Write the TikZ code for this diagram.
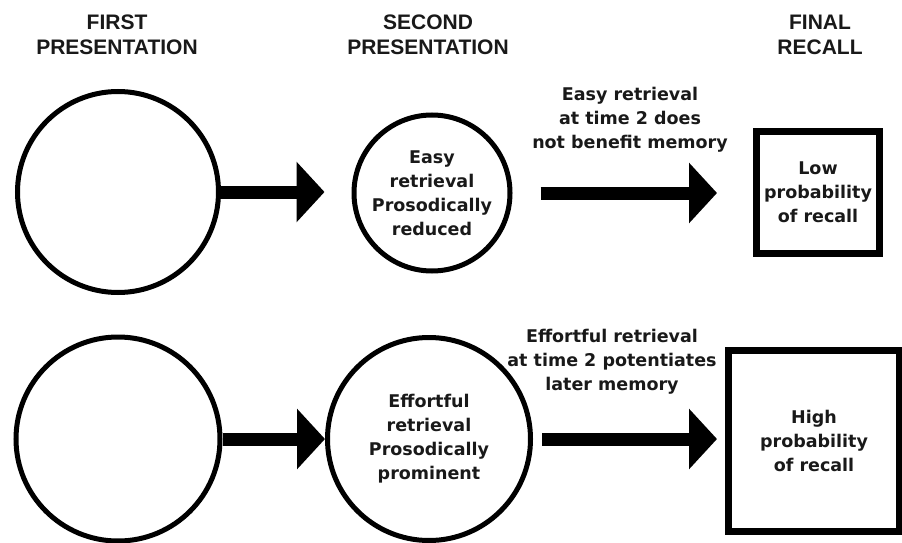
\documentclass[tikz,border=0pt]{standalone}
\usepackage{fontspec}
\setmainfont{DejaVu Sans}
\newfontfamily\hdrfont{Liberation Sans}
\usetikzlibrary{arrows.meta}
\begin{document}
\begin{tikzpicture}[x=1pt,y=-1pt,
  hdr/.style={font=\hdrfont\bfseries\fontsize{21}{25}\selectfont, align=center, inner sep=0pt, text=black!90},
  body/.style={font=\bfseries\fontsize{17.5}{24}\selectfont, align=center, inner sep=0pt, text=black!90},
  ring/.style={circle, draw, line width=5pt, inner sep=0pt},
  outbox/.style={rectangle, draw, line width=7pt, inner sep=0pt},
  bigarrow/.style={line width=13pt, -{Triangle[length=28pt,width=59pt]}},
]
\useasboundingbox[fill=white] (0,0) rectangle (902,543);

% headers
\node[hdr] (h1) at (117,34.5) {FIRST\\PRESENTATION};
\node[hdr] (h2) at (428,34.5) {SECOND\\PRESENTATION};
\node[hdr] (h3) at (820,34.5) {FINAL\\RECALL};

% top row
\node[ring, minimum size=201pt] (c1) at (118,192) {};
\node[ring, body, minimum size=156pt] (c2) at (432,193) {Easy\\retrieval\\Prosodically\\reduced};
\node[outbox, body, minimum width=123pt, minimum height=122pt] (b1) at (818,192.5) {Low\\probability\\of recall};
\node[body] (l1) at (630,120) {Easy retrieval\\at time 2 does\\not benefit memory};

\coordinate (a1e) at ([xshift=-27pt]c2.west);
\coordinate (a2s) at ([xshift=28pt]c2.east);
\coordinate (a2e) at ([xshift=-36pt]b1.west);
\draw[bigarrow] (c1.east) -- (c1.east -| a1e);
\draw[bigarrow] (a2s) -- (a2s -| a2e);

% bottom row
\node[ring, minimum size=204pt] (c3) at (118,439) {};
\node[ring, body, minimum size=203pt] (c4) at (429,439) {Effortful\\retrieval\\Prosodically\\prominent};
\node[outbox, body, minimum width=171pt, minimum height=181pt] (b2) at (814,441) {High\\probability\\of recall};
\node[body] (l2) at (612,362) {Effortful retrieval\\at time 2 potentiates\\later memory};

\coordinate (a4s) at ([xshift=9pt]c4.east);
\coordinate (a4e) at ([xshift=-8pt]b2.west);
\draw[bigarrow] (c3.east) -- (c4.west);
\draw[bigarrow] (a4s) -- (a4s -| a4e);
\end{tikzpicture}
\end{document}
